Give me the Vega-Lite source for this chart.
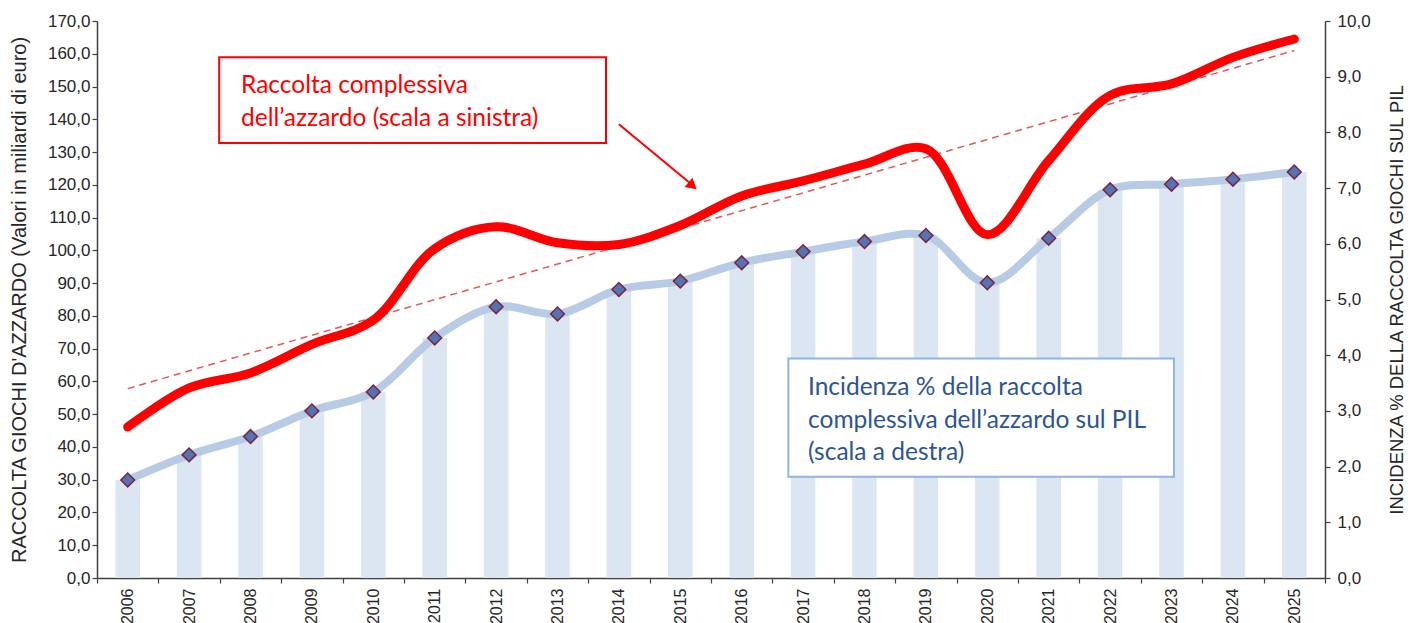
{
  "$schema": "https://vega.github.io/schema/vega-lite/v6.json",
  "autosize": "none",
  "width": 1228,
  "height": 557,
  "padding": {"left": 97, "top": 21, "right": 85, "bottom": 45},
  "background": "white",
  "config": {
    "view": {"stroke": null},
    "font": "Liberation Sans",
    "axis": {
      "grid": false,
      "domainColor": "#404040",
      "tickColor": "#404040",
      "labelColor": "#262626",
      "titleColor": "#262626",
      "labelFont": "Liberation Sans",
      "titleFont": "Liberation Sans",
      "labelFontSize": 17,
      "titleFontSize": 17,
      "titleFontWeight": "normal",
      "tickSize": 5,
      "domainWidth": 1.5,
      "tickWidth": 1.2
    }
  },
  "data": {
    "values": [
      {"year": "2006", "raccolta": 46.1, "incidenza": 1.76, "trend": 57.8},
      {"year": "2007", "raccolta": 58.0, "incidenza": 2.21},
      {"year": "2008", "raccolta": 62.6, "incidenza": 2.54},
      {"year": "2009", "raccolta": 71.3, "incidenza": 3.0},
      {"year": "2010", "raccolta": 78.7, "incidenza": 3.34},
      {"year": "2011", "raccolta": 100.5, "incidenza": 4.31},
      {"year": "2012", "raccolta": 107.2, "incidenza": 4.87},
      {"year": "2013", "raccolta": 102.3, "incidenza": 4.74},
      {"year": "2014", "raccolta": 101.8, "incidenza": 5.18},
      {"year": "2015", "raccolta": 107.6, "incidenza": 5.33},
      {"year": "2016", "raccolta": 116.6, "incidenza": 5.66},
      {"year": "2017", "raccolta": 121.2, "incidenza": 5.86},
      {"year": "2018", "raccolta": 126.3, "incidenza": 6.04},
      {"year": "2019", "raccolta": 131.0, "incidenza": 6.15},
      {"year": "2020", "raccolta": 104.8, "incidenza": 5.3},
      {"year": "2021", "raccolta": 127.4, "incidenza": 6.1},
      {"year": "2022", "raccolta": 147.3, "incidenza": 6.97},
      {"year": "2023", "raccolta": 150.8, "incidenza": 7.07},
      {"year": "2024", "raccolta": 158.9, "incidenza": 7.16},
      {"year": "2025", "raccolta": 164.5, "incidenza": 7.29, "trend": 161.0}
    ]
  },
  "layer": [
    {
      "encoding": {
        "x": {
          "field": "year", "type": "ordinal",
          "scale": {"paddingInner": 0, "paddingOuter": 0},
          "axis": {
            "title": null,
            "labelAngle": -90,
            "labelAlign": "right",
            "labelBaseline": "middle",
            "labelPadding": 5,
            "tickBand": "extent",
            "labelFontSize": 16
          }
        }
      },
      "layer": [
        {
          "encoding": {
            "y": {
              "field": "incidenza", "type": "quantitative",
              "scale": {"domain": [0, 10], "nice": false},
              "axis": {
                "orient": "right",
                "title": "INCIDENZA % DELLA RACCOLTA GIOCHI SUL PIL",
                "titleAngle": 270,
                "titleFontSize": 18.5,
                "titlePadding": 36,
                "values": [0, 1, 2, 3, 4, 5, 6, 7, 8, 9, 10],
                "labelExpr": "replace(format(datum.value, '.1f'), '.', ',')",
                "labelPadding": 7,
                "tickSize": 5
              }
            }
          },
          "layer": [
            {"mark": {"type": "bar", "color": "#DCE6F2", "width": {"band": 0.4}}},
            {"mark": {"type": "line", "color": "#B7CBE5", "strokeWidth": 8, "interpolate": "catmull-rom", "strokeCap": "round"}},
            {"mark": {"type": "point", "shape": "diamond", "size": 190, "filled": true, "fill": "#5473B2", "stroke": "#7A2440", "strokeWidth": 1.5, "opacity": 1}}
          ]
        },
        {
          "encoding": {
            "y": {
              "type": "quantitative",
              "scale": {"domain": [0, 170], "nice": false},
              "axis": {
                "orient": "left",
                "title": "RACCOLTA GIOCHI D'AZZARDO (Valori in miliardi di euro)",
                "titleFontSize": 20,
                "values": [0, 10, 20, 30, 40, 50, 60, 70, 80, 90, 100, 110, 120, 130, 140, 150, 160, 170],
                "labelExpr": "replace(format(datum.value, '.1f'), '.', ',')",
                "labelPadding": 2,
                "titlePadding": 18
              }
            }
          },
          "layer": [
            {
              "transform": [{"filter": "isValid(datum.trend)"}],
              "mark": {"type": "line", "color": "#E05A5A", "strokeWidth": 1.5, "strokeDash": [7, 5]},
              "encoding": {"y": {"field": "trend", "type": "quantitative"}}
            },
            {
              "mark": {"type": "line", "color": "#FF0000", "strokeWidth": 9, "interpolate": "catmull-rom", "strokeCap": "round"},
              "encoding": {"y": {"field": "raccolta", "type": "quantitative"}}
            }
          ]
        }
      ],
      "resolve": {"scale": {"y": "independent"}}
    },
    {
      "data": {"values": [{}]},
      "mark": {"type": "rect", "fill": "white", "stroke": "#FF0000", "strokeWidth": 2},
      "encoding": {
        "x": {"datum": 2007.49, "type": "quantitative", "scale": {"domain": [2005.5, 2025.5], "nice": false, "zero": false}, "axis": null},
        "x2": {"datum": 2013.79},
        "y": {"datum": 158.9, "type": "quantitative", "scale": {"domain": [0, 170], "nice": false}, "axis": null},
        "y2": {"datum": 132.8}
      }
    },
    {
      "data": {"values": [{}]},
      "mark": {"type": "text", "font": "Lato", "fontSize": 24.5, "color": "#FF0000", "align": "left", "baseline": "alphabetic", "lineHeight": 33, "text": ["Raccolta complessiva", "dell’azzardo (scala a sinistra)"]},
      "encoding": {
        "x": {"datum": 2007.845, "type": "quantitative", "scale": {"domain": [2005.5, 2025.5], "nice": false, "zero": false}, "axis": null},
        "y": {"datum": 147.9, "type": "quantitative", "scale": {"domain": [0, 170], "nice": false}, "axis": null}
      }
    },
    {
      "data": {"values": [{}]},
      "mark": {"type": "rule", "color": "#FF0000", "strokeWidth": 2},
      "encoding": {
        "x": {"datum": 2014.0, "type": "quantitative", "scale": {"domain": [2005.5, 2025.5], "nice": false, "zero": false}, "axis": null},
        "x2": {"datum": 2015.2},
        "y": {"datum": 138.5, "type": "quantitative", "scale": {"domain": [0, 170], "nice": false}, "axis": null},
        "y2": {"datum": 119.9}
      }
    },
    {
      "data": {"values": [{}]},
      "mark": {"type": "point", "shape": "triangle-right", "size": 150, "filled": true, "color": "#FF0000", "opacity": 1, "angle": 40},
      "encoding": {
        "x": {"datum": 2015.2, "type": "quantitative", "scale": {"domain": [2005.5, 2025.5], "nice": false, "zero": false}, "axis": null},
        "y": {"datum": 119.7, "type": "quantitative", "scale": {"domain": [0, 170], "nice": false}, "axis": null}
      }
    },
    {
      "data": {"values": [{}]},
      "mark": {"type": "rect", "fill": "white", "stroke": "#8EB4E3", "strokeWidth": 2},
      "encoding": {
        "x": {"datum": 2016.76, "type": "quantitative", "scale": {"domain": [2005.5, 2025.5], "nice": false, "zero": false}, "axis": null},
        "x2": {"datum": 2023.04},
        "y": {"datum": 67.0, "type": "quantitative", "scale": {"domain": [0, 170], "nice": false}, "axis": null},
        "y2": {"datum": 30.9}
      }
    },
    {
      "data": {"values": [{}]},
      "mark": {"type": "text", "font": "Lato", "fontSize": 24.5, "color": "#2B5597", "align": "left", "baseline": "alphabetic", "lineHeight": 32.5, "text": ["Incidenza % della raccolta", "complessiva dell’azzardo sul PIL", "(scala a destra)"]},
      "encoding": {
        "x": {"datum": 2017.08, "type": "quantitative", "scale": {"domain": [2005.5, 2025.5], "nice": false, "zero": false}, "axis": null},
        "y": {"datum": 55.8, "type": "quantitative", "scale": {"domain": [0, 170], "nice": false}, "axis": null}
      }
    }
  ],
  "resolve": {"scale": {"x": "independent", "y": "independent"}}
}
